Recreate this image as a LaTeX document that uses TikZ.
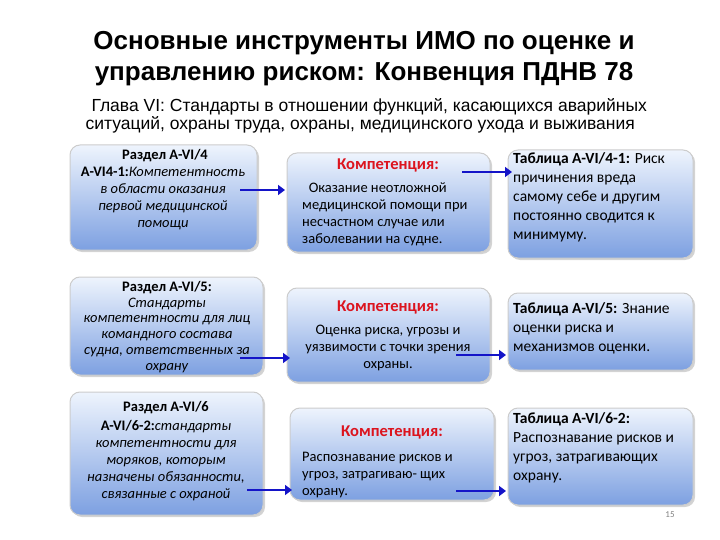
\documentclass[tikz,border=0pt]{standalone}
\usepackage{fontspec}
\setmainfont{Carlito}
\newfontfamily\hd{Liberation Sans}
\usetikzlibrary{shadows,arrows.meta}
\definecolor{boxbot}{RGB}{125,160,225}
\definecolor{boxtop}{RGB}{238,244,253}
\definecolor{kred}{RGB}{220,20,30}
\definecolor{arr}{RGB}{20,20,200}
\tikzset{
  bx/.style={draw=gray!40,line width=1pt,rounded corners=10pt,top color=boxtop,bottom color=boxbot,drop shadow={opacity=0.35,shadow xshift=2pt,shadow yshift=-2pt}},
  txt/.style={font=\fontsize{14.5}{17}\selectfont,inner sep=0pt},
  rt/.style={font=\fontsize{15.5}{19}\selectfont,inner sep=0pt},
  kt/.style={inner sep=0pt,font=\bfseries\fontsize{16.5}{18}\selectfont,text=kred},
  ar/.style={draw=arr,line width=2.4pt,-{Triangle[length=7pt,width=10pt]}},
}
\begin{document}
\begin{tikzpicture}[x=1pt,y=-1pt]
\useasboundingbox (0,0) rectangle (720,540);
\node[font=\hd\bfseries\fontsize{26}{31}\selectfont,align=center] (title) at (364,59) {Основные инструменты ИМО по оценке и\\управлению риском: Конвенция ПДНВ 78};
\node[font=\hd\fontsize{17.5}{18}\selectfont,align=left,anchor=north west] (sub) at (88,95) {Глава VI: Стандарты в отношении функций, касающихся аварийных\\\hspace*{-6pt}ситуаций, охраны труда, охраны, медицинского ухода и выживания};
% boxes
\path[bx] (70,145) rectangle (257,250);
\path[bx] (287,153) rectangle (490,252);
\path[bx] (508,150) rectangle (693,258);
\path[bx] (70,277) rectangle (263,375);
\path[bx] (287,288) rectangle (490,382);
\path[bx] (508,293) rectangle (693,370);
\path[bx] (70,392) rectangle (263,515);
\path[bx] (290,408) rectangle (494,500);
\path[bx] (508,408) rectangle (693,505);
% row1 texts
\node[txt,font=\bfseries\fontsize{14.5}{17}\selectfont] (t1a) at (165,156) {Раздел A-VI/4};
\node[txt,align=center,anchor=north] (t1b) at (163,167) {\textbf{A-VI4-1:}\textit{Компетентность}\\\textit{в области оказания}\\\textit{первой медицинской}\\\textit{помощи}};
\node[kt] (k1) at (388,165) {Компетенция:};
\node[txt,align=left,anchor=north west] (m1) at (302,183) {\ \ Оказание неотложной\\медицинской помощи при\\несчастном случае или\\заболевании на судне.};
\node[rt,align=left,anchor=north west] (r1) at (513,152) {\textbf{Таблица A-VI/4-1:} Риск\\причинения вреда\\самому себе и другим\\постоянно сводится к\\минимуму.};
% row2
\node[txt,align=center,anchor=north,font=\fontsize{14.5}{15.8}\selectfont] (t2) at (167,281) {\textbf{Раздел A-VI/5:}\\\textit{Стандарты}\\\textit{компетентности для лиц}\\\textit{командного состава}\\\textit{судна, ответственных за}\\\textit{охрану}};
\node[kt] (k2) at (388,307) {Компетенция:};
\node[txt,align=center,anchor=north] (m2) at (388,325) {Оценка риска, угрозы и\\уязвимости с точки зрения\\охраны.};
\node[rt,align=left,anchor=north west] (r2) at (513,302) {\textbf{Таблица A-VI/5:} Знание\\оценки риска и\\механизмов оценки.};
% row3
\node[txt,font=\bfseries\fontsize{14.5}{17}\selectfont] (t3a) at (166,408) {Раздел A-VI/6};
\node[txt,align=center,anchor=north] (t3b) at (166,420) {\textbf{A-VI/6-2:}\textit{стандарты}\\\textit{компетентности для}\\\textit{моряков, которым}\\\textit{назначены обязанности,}\\\textit{связанные с охраной}};
\node[kt] (k3) at (392,432) {Компетенция:};
\node[txt,align=left,anchor=north west] (m3) at (302,452) {Распознавание рисков и\\угроз, затрагиваю- щих\\охрану.};
\node[rt,align=left,anchor=north west] (r3) at (513,412) {\textbf{Таблица A-VI/6-2:}\\Распознавание рисков и\\угроз, затрагивающих\\охрану.};
\node[font=\fontsize{9}{10}\selectfont,text=gray] (pg) at (670,515) {15};
% arrows
\coordinate (a1s) at (240,190); \coordinate (a1e) at (285,190);
\coordinate (b1s) at (462,172); \coordinate (b1e) at (512,172);
\coordinate (a2s) at (240,358); \coordinate (a2e) at (290,358);
\coordinate (b2s) at (456,355); \coordinate (b2e) at (506,355);
\coordinate (a3s) at (247,490); \coordinate (a3e) at (292,490);
\coordinate (b3s) at (456,491); \coordinate (b3e) at (506,491);
\draw[ar] (a1s) -- (a1e); \draw[ar] (b1s) -- (b1e);
\draw[ar] (a2s) -- (a2e); \draw[ar] (b2s) -- (b2e);
\draw[ar] (a3s) -- (a3e); \draw[ar] (b3s) -- (b3e);
\end{tikzpicture}
\end{document}
